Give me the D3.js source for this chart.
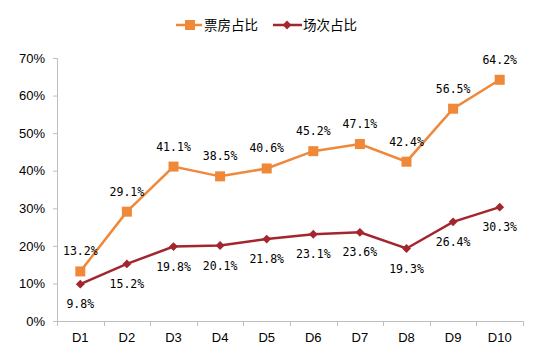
<!DOCTYPE html>
<html><head><meta charset="utf-8">
<script src="https://cdn.jsdelivr.net/npm/d3@7/dist/d3.min.js"></script>
<style>body{margin:0;background:#fff}svg{display:block}</style>
</head><body>
<script>
const categories = ["D1","D2","D3","D4","D5","D6","D7","D8","D9","D10"];
const boxOffice = [13.2,29.1,41.1,38.5,40.6,45.2,47.1,42.4,56.5,64.2];
const screenings = [9.8,15.2,19.8,20.1,21.8,23.1,23.6,19.3,26.4,30.3];
const yTicks = [0,10,20,30,40,50,60,70];
const seriesNames = ["票房占比","场次占比"];

const W=549,H=354;
const svg=d3.select("body").append("svg").attr("width",W).attr("height",H);
const x=d3.scaleBand().domain(categories).range([57,523]);
const y=d3.scaleLinear().domain([0,70]).range([321,58]);
const orange="#F0883A", red="#A3262F", axisCol="#BFBFBF";

// y axis
const ya=svg.append("g").attr("transform","translate(57,0)")
  .call(d3.axisLeft(y).tickValues(yTicks).tickFormat(d=>d+"%").tickSize(4).tickPadding(8));
ya.select(".domain").attr("stroke",axisCol).attr("d","M-4,58.5H0.5V321.5");
ya.selectAll(".tick line").attr("stroke",axisCol);
ya.selectAll("text").attr("font-family","'Liberation Sans',Arial,sans-serif").attr("font-size",13).attr("fill","#000");

// x axis
const xa=svg.append("g").attr("transform","translate(0,321)");
xa.append("line").attr("x1",57).attr("x2",523).attr("y1",0.5).attr("y2",0.5).attr("stroke",axisCol);
const bounds=categories.map(c=>x(c)).concat([x(categories[categories.length-1])+x.bandwidth()]);
xa.selectAll("line.tk").data(bounds).join("line").attr("class","tk")
  .attr("x1",d=>Math.round(d)+0.5).attr("x2",d=>Math.round(d)+0.5).attr("y1",0).attr("y2",5).attr("stroke",axisCol);
xa.selectAll("text").data(categories).join("text")
  .attr("x",d=>x(d)+x.bandwidth()/2).attr("y",16).attr("dy","0.35em").attr("text-anchor","middle")
  .attr("font-family","'Liberation Sans',Arial,sans-serif").attr("font-size",13).text(d=>d);

const cx=d=>x(d)+x.bandwidth()/2;
const line=d3.line().x((d,i)=>cx(categories[i])).y(d=>y(d));

svg.append("path").datum(boxOffice).attr("d",line).attr("fill","none").attr("stroke",orange).attr("stroke-width",2.5);
svg.append("path").datum(screenings).attr("d",line).attr("fill","none").attr("stroke",red).attr("stroke-width",2.5);

svg.selectAll("rect.m").data(boxOffice).join("rect").attr("class","m")
  .attr("x",(d,i)=>cx(categories[i])-5).attr("y",d=>y(d)-5).attr("width",10).attr("height",10).attr("fill",orange);
const diamond=d3.symbol().type(d3.symbolDiamond2).size(50);
svg.selectAll("path.dm").data(screenings).join("path").attr("class","dm")
  .attr("transform",(d,i)=>`translate(${cx(categories[i])},${y(d)})`).attr("d",diamond).attr("fill",red);

const lblFont="'DejaVu Sans Mono',monospace";
svg.selectAll("text.lo").data(boxOffice).join("text").attr("class","lo")
  .attr("x",(d,i)=>cx(categories[i])).attr("y",d=>y(d)-20).attr("dy","0.35em").attr("text-anchor","middle")
  .attr("font-family",lblFont).attr("font-size",11.5).attr("fill","#000").text(d=>d.toFixed(1)+"%");
svg.selectAll("text.lr").data(screenings).join("text").attr("class","lr")
  .attr("x",(d,i)=>cx(categories[i])).attr("y",d=>y(d)+20).attr("dy","0.35em").attr("text-anchor","middle")
  .attr("font-family",lblFont).attr("font-size",11.5).attr("fill","#000").text(d=>d.toFixed(1)+"%");

// legend
const lg=svg.append("g");
lg.append("line").attr("x1",176).attr("x2",202).attr("y1",25).attr("y2",25).attr("stroke",orange).attr("stroke-width",2.5);
lg.append("rect").attr("x",185).attr("y",20).attr("width",10).attr("height",10).attr("fill",orange);
lg.append("text").attr("x",204).attr("y",25).attr("dy","0.35em").attr("font-family","'Noto Sans CJK SC',sans-serif").attr("font-size",13.5).text(seriesNames[0]);
lg.append("line").attr("x1",273).attr("x2",302).attr("y1",25).attr("y2",25).attr("stroke",red).attr("stroke-width",2.5);
lg.append("path").attr("transform","translate(287,25)").attr("d",diamond).attr("fill",red);
lg.append("text").attr("x",303).attr("y",25).attr("dy","0.35em").attr("font-family","'Noto Sans CJK SC',sans-serif").attr("font-size",13.5).text(seriesNames[1]);
</script>
</body></html>
